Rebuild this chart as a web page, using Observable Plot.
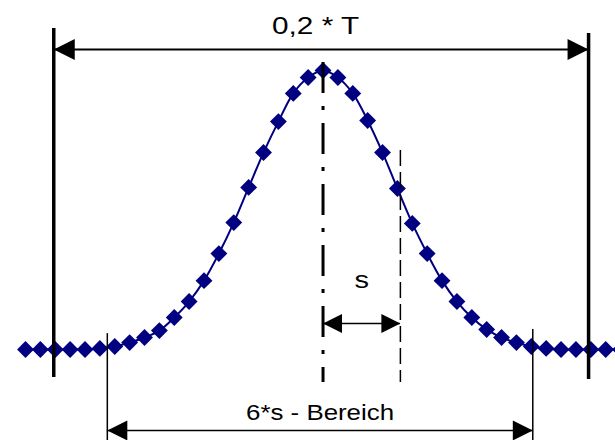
<!DOCTYPE html>
<html>
<head>
<meta charset="utf-8">
<script src="https://cdn.jsdelivr.net/npm/d3@7"></script>
<script src="https://cdn.jsdelivr.net/npm/@observablehq/plot@0.6"></script>
<style>
  html, body { margin: 0; padding: 0; background: #fff; overflow: hidden; }
  #chart svg { display: block; }
</style>
</head>
<body>
<div id="chart"></div>
<script>
// Sample positions, in sample steps around the mean
const steps = [-20, -19, -18, -17, -16, -15, -14, -13, -12, -11, -10, -9, -8, -7, -6, -5, -4, -3, -2, -1,
  0, 1, 2, 3, 4, 5, 6, 7, 8, 9, 10, 11, 12, 13, 14, 15, 16, 17, 18, 19, 20];
// Frequency at each step, in % of the peak
const share = [0, 0, 0, 0, 0, 0.4, 1.1, 2.5, 4.3, 6.8, 11.5, 17.2, 24.7, 34.4, 45.5, 58.1, 70.6, 81.7, 91.8, 97.5,
  100, 97.5, 91.8, 82.1, 70.6, 57.7, 45.2, 34.4, 24.7, 17.2, 11.5, 7.2, 4.3, 2.5, 1.1, 0.4, 0, 0, 0, 0, 0];

// Guide positions (sample steps)
const tLimits = [-18.1, 17.85];   // tolerance window 0,2 * T
const sixSRange = [-14.5, 14.1];  // 6*s range
const sStep = 5.2;                // one standard deviation

// Labels
const labelT = "0,2 * T";
const labelS = "s";
const labelRange = "6*s - Bereich";

const points = steps.map((x, i) => ({x, y: share[i]}));

const navy = "#000080";
const font = "Liberation Sans, Arial, Helvetica, sans-serif";

// Filled arrow head, tip at the anchor point, pointing right when rotate = 0
const arrowHead = {
  draw(ctx, size) {
    const r = Math.sqrt(size / Math.PI);
    ctx.moveTo(0, 0);
    ctx.lineTo(-2 * r, -r);
    ctx.lineTo(-2 * r, r);
    ctx.closePath();
  }
};

const chart = Plot.plot({
  width: 615,
  height: 440,
  margin: 0,
  x: {domain: [-21.68, 19.66], axis: null},
  y: {domain: [-32.6, 125.1], axis: null},
  marks: [
    // distribution curve and samples
    Plot.line(points, {x: "x", y: "y", stroke: navy, strokeWidth: 2, curve: "catmull-rom"}),
    Plot.dot(points, {x: "x", y: "y", symbol: "diamond2", r: 7.6, fill: navy}),

    // 0,2 * T window
    Plot.ruleX([{x: tLimits[0], y1: 115.1, y2: -10.0}, {x: tLimits[1], y1: 113.3, y2: -10.7}],
      {x: "x", y1: "y1", y2: "y2", stroke: "#000", strokeWidth: 3.5}),
    Plot.ruleY([107.5], {x1: tLimits[0], x2: tLimits[1], stroke: "#000", strokeWidth: 2}),
    Plot.dot([{x: tLimits[0], a: 180}, {x: tLimits[1], a: 0}],
      {x: "x", y: 107.5, rotate: "a", symbol: arrowHead, r: 10.5, fill: "#000"}),
    Plot.text([labelT], {x: -0.5, y: 115.8, text: d => d, fontSize: 23.5, fontFamily: font, fill: "#000"}),

    // mean and one standard deviation
    Plot.ruleX([0], {y1: 102.9, y2: -11.8, stroke: "#000", strokeWidth: 3, strokeDasharray: "31,13,4,13"}),
    Plot.ruleX([sStep], {y1: 71.3, y2: -11.8, stroke: "#000", strokeWidth: 1.5, strokeDasharray: "16,6"}),
    Plot.ruleY([9.3], {x1: 0, x2: sStep, stroke: "#000", strokeWidth: 1.5}),
    Plot.dot([{x: 0, a: 180}, {x: sStep, a: 0}],
      {x: "x", y: 9.3, rotate: "a", symbol: arrowHead, r: 9.5, fill: "#000"}),
    Plot.text([labelS], {x: sStep / 2, y: 24.7, text: d => d, fontSize: 23.5, fontFamily: font, fill: "#000"}),

    // 6*s range
    Plot.ruleX([{x: sixSRange[0], y1: 5.7}, {x: sixSRange[1], y1: 7.2}],
      {x: "x", y1: "y1", y2: -32.6, stroke: "#000", strokeWidth: 1.5}),
    Plot.ruleY([-29.0], {x1: sixSRange[0], x2: sixSRange[1], stroke: "#000", strokeWidth: 1.5}),
    Plot.dot([{x: sixSRange[0], a: 180}, {x: sixSRange[1], a: 0}],
      {x: "x", y: -29.0, rotate: "a", symbol: arrowHead, r: 10, fill: "#000"}),
    Plot.text([labelRange], {x: (sixSRange[0] + sixSRange[1]) / 2, y: -22.6, text: d => d, fontSize: 22.5, fontFamily: font, fill: "#000"})
  ]
});

// the labels are set in a slightly widened face
const labelWidths = {[labelT]: 87, [labelS]: 14.5, [labelRange]: 148};
d3.select(chart).selectAll("text").each(function () {
  const w = labelWidths[this.textContent];
  if (w) {
    this.setAttribute("textLength", w);
    this.setAttribute("lengthAdjust", "spacingAndGlyphs");
  }
});

document.getElementById("chart").append(chart);
</script>
</body>
</html>
